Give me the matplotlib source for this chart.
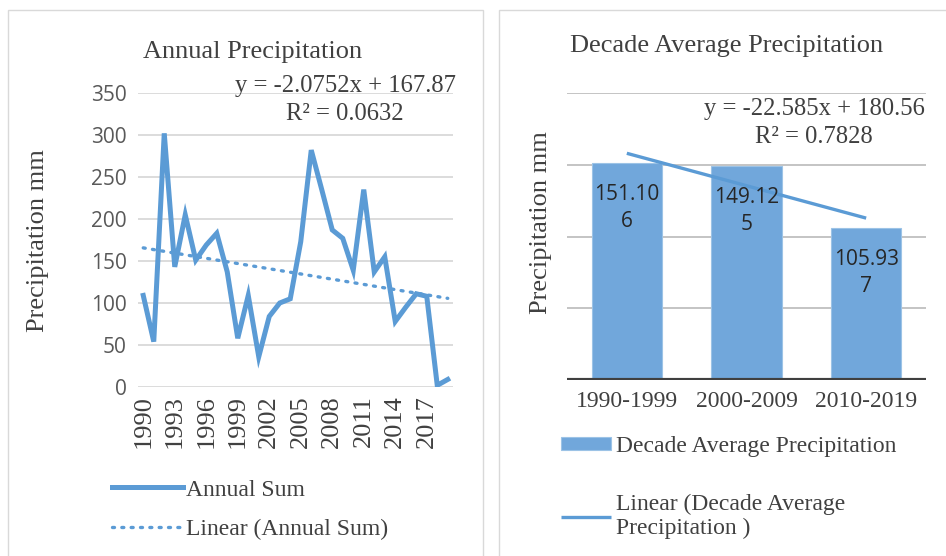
import numpy as np
import matplotlib
matplotlib.use('Agg')
import matplotlib.pyplot as plt
from matplotlib.patches import Rectangle

# annual precipitation sums (mm)
years = list(range(1990, 2020))
annual_sum = [109, 54, 302, 143, 205, 151, 169, 183, 137, 58,
              109, 36, 84, 100, 105, 173, 282, 235, 187, 177,
              139, 235, 137, 155, 78, 95, 111, 108, 2, 9]
decades = ['1990-1999', '2000-2009', '2010-2019']
decade_avg = [151.106, 149.125, 105.937]
annual_eq = 'y = -2.0752x + 167.87\nR² = 0.0632'
decade_eq = 'y = -22.585x + 180.56\nR² = 0.7828'

BLUE = '#5B9BD5'
BAR = '#71A7DB'
TXT = '#404040'
SERIF = 'Liberation Serif'
SANS = 'Open Sans'

W, H = 946, 556
fig = plt.figure(figsize=(W / 100, H / 100), dpi=100)


def box(x0, y0, x1, y1):
    # pixel box (top-left origin) -> figure fraction rect
    return [x0 / W, 1 - y1 / H, (x1 - x0) / W, (y1 - y0) / H]


# panel frames
fig.patches.append(Rectangle((8 / W, -0.1), (483 - 8) / W, 1.1 - 10 / H,
                             transform=fig.transFigure, fill=False,
                             ec='#D9D9D9', lw=1))
fig.patches.append(Rectangle((499 / W, -0.1), 0.5, 1.1 - 10 / H,
                             transform=fig.transFigure, fill=False,
                             ec='#D9D9D9', lw=1))

# ---- left: annual sums
ax1 = fig.add_axes(box(138, 93, 453, 387))
idx = np.arange(len(years))
ax1.plot(idx, annual_sum, color=BLUE, lw=3.6, solid_joinstyle='miter',
         label='Annual Sum')
k, b = np.polyfit(idx + 1, annual_sum, 1)
ax1.plot(idx, k * (idx + 1) + b, color=BLUE, lw=2.4,
         linestyle=(0, (0.6, 2.2)), dash_capstyle='round',
         label='Linear (Annual Sum)')
ax1.set_xlim(-0.5, len(years) - 0.5)
ax1.set_ylim(0, 350)
ax1.set_yticks(range(0, 351, 50))
ax1.set_xticks(idx[::3])
ax1.set_xticklabels([str(y) for y in years[::3]], rotation=90,
                    family=SERIF, fontsize=19, color=TXT)
for t in ax1.get_yticklabels():
    t.set_family(SANS)
    t.set_fontsize(15)
    t.set_color('#595959')
ax1.tick_params(length=0, pad=8)
ax1.tick_params(axis='x', pad=6)
ax1.grid(axis='y', color='#D9D9D9', lw=1.3)
ax1.set_axisbelow(True)
for s in ax1.spines.values():
    s.set_visible(False)
ax1.set_ylabel('Precipitation mm', family=SERIF, fontsize=19, color=TXT)
ax1.yaxis.set_label_coords((49 - 138) / 315, 0.498)
fig.text(253 / W, 1 - 52 / H, 'Annual Precipitation', family=SERIF,
         fontsize=19, color=TXT, ha='center', va='center')
fig.text(345 / W, 1 - 100 / H, annual_eq, family=SERIF, fontsize=17.7,
         color=TXT, ha='center', va='center', linespacing=1.3)
ax1.legend(loc='upper left', bbox_to_anchor=(112 / W, 1 - 479 / H),
           bbox_transform=fig.transFigure, frameon=False,
           prop={'family': SERIF, 'size': 17}, labelcolor=TXT,
           handlelength=3.0, handletextpad=0.15, labelspacing=0.75,
           borderpad=0, borderaxespad=0)

# ---- right: decade averages
ax2 = fig.add_axes(box(567, 93, 926, 380))
pos = np.arange(len(decades))
bars = ax2.bar(pos, decade_avg, width=0.59, color=BAR, ec='#9CC3E6',
               lw=0.8, label='Decade Average Precipitation', zorder=2)
k2, b2 = np.polyfit(pos + 1, decade_avg, 1)
trend, = ax2.plot(pos, k2 * (pos + 1) + b2, color=BLUE, lw=2.4, zorder=3,
                  solid_capstyle='butt',
                  label='Linear (Decade Average\nPrecipitation )')
for p, v in zip(pos, decade_avg):
    s = '{:.3f}'.format(v)
    ax2.text(p, v - 14.5, s[:6] + '\n' + s[6:], ha='center', va='top',
             family=SANS, fontsize=15, color='#262626', zorder=4,
             linespacing=1.4)
ax2.set_xlim(-0.5, 2.5)
ax2.set_ylim(0, 200)
ax2.set_yticks([50, 100, 150, 200])
ax2.set_yticklabels([])
ax2.set_xticks(pos)
ax2.set_xticklabels(decades, family=SERIF, fontsize=17, color=TXT)
ax2.tick_params(length=0, pad=8)
ax2.grid(axis='y', color='#BFBFBF', lw=1.3, zorder=0)
ax2.set_axisbelow(True)
for s in ax2.spines.values():
    s.set_visible(False)
ax2.axhline(0, color='#404040', lw=3, zorder=5)
ax2.set_ylabel('Precipitation mm', family=SERIF, fontsize=19, color=TXT)
ax2.yaxis.set_label_coords((552 - 567) / 359, 0.55)
fig.text(727 / W, 1 - 46 / H, 'Decade Average Precipitation',
         family=SERIF, fontsize=19, color=TXT, ha='center', va='center')
fig.text(814 / W, 1 - 123 / H, decade_eq, family=SERIF, fontsize=17.7,
         color=TXT, ha='center', va='center', linespacing=1.3)
ax2.legend(handles=[bars, trend], loc='upper left',
           bbox_to_anchor=(561 / W, 1 - 436 / H),
           bbox_transform=fig.transFigure, frameon=False,
           prop={'family': SERIF, 'size': 17}, labelcolor=TXT,
           handlelength=2.1, handleheight=0.47, handletextpad=0.25,
           labelspacing=1.55, borderpad=0, borderaxespad=0)

fig.savefig('out.png', dpi=100)
